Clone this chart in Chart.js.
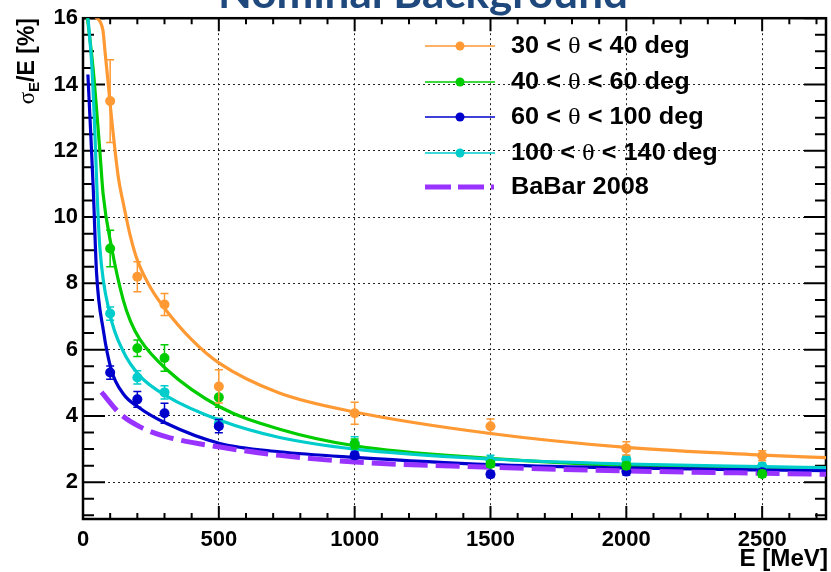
<!DOCTYPE html>
<html><head><meta charset="utf-8">
<script src="https://cdn.jsdelivr.net/npm/chart.js@4.4.1/dist/chart.umd.min.js"></script>
<style>html,body{margin:0;padding:0;background:#fff}#wrap{width:831px;height:572px;position:relative}</style>
</head><body><div id="wrap"><canvas id="c" width="831" height="572"></canvas></div>
<script>
// ---------- data ----------
const titleText = 'Nominal Background';
const xTitle = 'E [MeV]';
const xTickVals = [0, 500, 1000, 1500, 2000, 2500];
const xTickLabels = ['0', '500', '1000', '1500', '2000', '2500'];
const yTickVals = [2, 4, 6, 8, 10, 12, 14, 16];
const yTickLabels = ['2', '4', '6', '8', '10', '12', '14', '16'];

const seriesNames = ['30 < θ < 40 deg', '40 < θ < 60 deg', '60 < θ < 100 deg', '100 < θ < 140 deg'];
const babarName = 'BaBar 2008';

// measured points
const energies = [100, 200, 300, 500, 1000, 1500, 2000, 2500];
const res30_40  = [13.5, 8.2, 7.36, 4.89, 4.08, 3.69, 3.02, 2.8];
const err30_40  = [1.25, 0.45, 0.33, 0.5, 0.33, 0.22, 0.2, 0.15];
const res40_60  = [9.05, 6.04, 5.75, 4.56, 3.15, 2.55, 2.5, 2.25];
const err40_60  = [0.55, 0.25, 0.4, 0.3, 0.15, 0.1, 0.1, 0.1];
const res60_100 = [5.31, 4.5, 4.08, 3.69, 2.81, 2.24, 2.32, 2.3];
const err60_100 = [0.2, 0.24, 0.3, 0.2, 0.1, 0.1, 0.1, 0.1];
const res100_140 = [7.09, 5.16, 4.71, 3.78, 3.17, 2.66, 2.69, 2.48];
const err100_140 = [0.2, 0.2, 0.2, 0.15, 0.2, 0.15, 0.1, 0.1];

// fitted curves
const fitE30_40 = [45, 73, 81, 92, 100, 130, 150, 175, 200, 250, 300, 400, 500, 720, 1000, 1500, 2000, 2500, 2735];
const fit30_40  = [16.05, 15.65, 15.0, 14.1, 13.4, 11.2, 10.35, 9.4, 8.7, 7.85, 7.25, 6.3, 5.6, 4.7, 4.12, 3.47, 3.05, 2.82, 2.74];
const fitE40_60 = [15, 37, 62, 74, 105, 148, 175, 210, 308, 504, 724, 1000, 1500, 2000, 2500, 2735];
const fit40_60  = [16.1, 14.5, 12.0, 10.7, 9.09, 7.5, 6.85, 6.3, 5.4, 4.27, 3.6, 3.1, 2.72, 2.5, 2.41, 2.38];
const fitE60_100 = [18, 28, 38, 50, 75, 105, 148, 203, 308, 504, 724, 1000, 1500, 2000, 2500, 2735];
const fit60_100  = [14.3, 12.6, 10.8, 8.3, 6.58, 5.37, 4.67, 4.27, 3.77, 3.17, 2.92, 2.75, 2.53, 2.43, 2.37, 2.35];
const fitE100_140 = [15, 33, 44, 51, 62, 99, 148, 210, 308, 504, 724, 1000, 1500, 2000, 2500, 2735];
const fit100_140  = [16.3, 14.5, 12.5, 10.9, 9.09, 7.08, 5.95, 5.2, 4.6, 3.87, 3.35, 3.0, 2.7, 2.55, 2.47, 2.44];
const babarE = [68, 136, 210, 308, 504, 724, 1000, 1500, 2000, 2500, 2735];
const babarRes = [4.72, 4.07, 3.67, 3.37, 3.06, 2.81, 2.61, 2.45, 2.34, 2.27, 2.24];

const colors = ['#FF9933', '#00CC00', '#0000CC', '#00CCCC'];
const babarColor = '#9933FF';

// ---------- build datasets ----------
const pts = (xs, ys) => xs.map((x, i) => ({x: x, y: ys[i]}));
const measured = [res30_40, res40_60, res60_100, res100_140];
const errors = [err30_40, err40_60, err60_100, err100_140];
const fitsE = [fitE30_40, fitE40_60, fitE60_100, fitE100_140];
const fits = [fit30_40, fit40_60, fit60_100, fit100_140];

const datasets = [];
measured.forEach((ys, i) => {
  datasets.push({
    label: seriesNames[i], data: pts(energies, ys), errors: errors[i],
    showLine: false, pointRadius: 5, pointHoverRadius: 5, pointBorderWidth: 0,
    backgroundColor: colors[i], borderColor: colors[i], order: 0
  });
});
datasets.push({
  label: babarName, data: pts(babarE, babarRes), showLine: true, pointRadius: 0,
  borderColor: babarColor, borderWidth: 5, borderDash: [24, 8], cubicInterpolationMode: 'monotone', order: 1
});
fits.forEach((ys, i) => {
  datasets.push({
    label: seriesNames[i] + ' fit', data: pts(fitsE[i], ys), showLine: true, pointRadius: 0,
    borderColor: colors[i], borderWidth: 3.2, cubicInterpolationMode: 'monotone', order: 5 - i
  });
});

// ---------- helpers ----------
const SANS = '"Liberation Sans", Arial, sans-serif';
const SERIF = '"Liberation Serif", "Times New Roman", serif';
function richWidth(ctx, parts) {
  let w = 0;
  parts.forEach(p => { ctx.font = p.font; w += ctx.measureText(p.t).width; });
  return w;
}
function drawRich(ctx, parts, x, y, sx) {
  ctx.save();
  ctx.translate(x, y); ctx.scale(sx, 1);
  ctx.textAlign = 'left';
  let cx = 0;
  parts.forEach(p => {
    ctx.font = p.font;
    ctx.fillText(p.t, cx, p.dy || 0);
    cx += ctx.measureText(p.t).width;
  });
  ctx.restore();
}
function thetaParts(str, size) {
  const k = str.indexOf('θ');
  return [
    {t: str.slice(0, k), font: `bold ${size}px ${SANS}`},
    {t: 'θ', font: `${size + 1}px ${SERIF}`},
    {t: str.slice(k + 1), font: `bold ${size}px ${SANS}`}
  ];
}

const rootPlugin = {
  id: 'rootStyle',
  beforeDatasetsDraw(chart) {
    const {ctx, chartArea: a, scales: {x, y}} = chart;
    ctx.save();
    ctx.strokeStyle = '#000';
    ctx.lineWidth = 2;
    ctx.beginPath();
    for (let v = 0; v <= x.max; v += 100) {
      const px = x.getPixelForValue(v);
      const len = (v % 500 === 0) ? 13 : 6;
      ctx.moveTo(px, a.bottom); ctx.lineTo(px, a.bottom - len);
      ctx.moveTo(px, a.top); ctx.lineTo(px, a.top + len);
    }
    for (let v = 1; v <= y.max + 1e-9; v += 0.5) {
      if (v < y.min) continue;
      const py = y.getPixelForValue(v);
      const len = (Math.abs(v % 2) < 1e-9) ? 22 : 11;
      ctx.moveTo(a.left, py); ctx.lineTo(a.left + len, py);
      ctx.moveTo(a.right, py); ctx.lineTo(a.right - len, py);
    }
    ctx.stroke();
    ctx.lineWidth = 2.5;
    ctx.strokeRect(a.left, a.top, a.right - a.left, a.bottom - a.top);
    ctx.restore();
  },
  beforeDatasetDraw(chart, args) {
    const ds = chart.data.datasets[args.index];
    if (!ds.errors) return;
    const {ctx, scales: {x, y}} = chart;
    ctx.save();
    ctx.strokeStyle = ds.borderColor;
    ctx.lineWidth = 1.5;
    ctx.beginPath();
    ds.data.forEach((p, i) => {
      const e = ds.errors[i];
      const px = x.getPixelForValue(p.x);
      const yt = y.getPixelForValue(p.y + e), yb = y.getPixelForValue(p.y - e);
      ctx.moveTo(px, yt); ctx.lineTo(px, yb);
      ctx.moveTo(px - 4, yt); ctx.lineTo(px + 4, yt);
      ctx.moveTo(px - 4, yb); ctx.lineTo(px + 4, yb);
    });
    ctx.stroke();
    ctx.restore();
  },
  afterDraw(chart) {
    const {ctx} = chart;
    ctx.save();
    ctx.fillStyle = '#000';
    // legend
    const rows = [46, 82, 117, 153];
    seriesNames.forEach((name, i) => {
      const ry = rows[i];
      ctx.strokeStyle = colors[i]; ctx.lineWidth = 1.5; ctx.setLineDash([]);
      ctx.beginPath(); ctx.moveTo(425, ry); ctx.lineTo(495, ry); ctx.stroke();
      ctx.fillStyle = colors[i];
      ctx.beginPath(); ctx.arc(460, ry, 4.5, 0, Math.PI * 2); ctx.fill();
      ctx.fillStyle = '#000';
      ctx.textBaseline = 'middle';
      drawRich(ctx, thetaParts(name, 23), 511, ry + 1, 1.1);
    });
    ctx.strokeStyle = babarColor; ctx.lineWidth = 5; ctx.setLineDash([26, 7]);
    ctx.beginPath(); ctx.moveTo(425, 187); ctx.lineTo(494, 187); ctx.stroke();
    ctx.setLineDash([]);
    ctx.fillStyle = '#000';
    drawRich(ctx, [{t: babarName, font: `bold 23px ${SANS}`}], 511, 188, 1.1);

    // x axis title
    ctx.textBaseline = 'alphabetic';
    ctx.font = `bold 23px ${SANS}`;
    const wx = ctx.measureText(xTitle).width * 1.05;
    drawRich(ctx, [{t: xTitle, font: `bold 23px ${SANS}`}], 828 - wx, 566, 1.05);

    // y axis title (rotated)
    const yParts = [
      {t: 'σ', font: `23px ${SERIF}`},
      {t: 'E', font: `bold 15px ${SANS}`, dy: 5},
      {t: '/E [%]', font: `bold 23px ${SANS}`}
    ];
    const wy = richWidth(ctx, yParts);
    ctx.save();
    ctx.translate(34, 0);
    ctx.rotate(-Math.PI / 2);
    drawRich(ctx, yParts, -(18 + wy), 0, 1);
    ctx.restore();

    // title (cut at the top of the page)
    ctx.font = `bold 42px Lato, ${SANS}`;
    const tw = ctx.measureText(titleText).width;
    ctx.fillStyle = '#1F497D';
    ctx.save();
    ctx.translate(218, 8);
    ctx.scale(410 / tw, 1);
    ctx.textAlign = 'left';
    ctx.fillText(titleText, 0, 0);
    ctx.restore();
    ctx.restore();
  }
};

new Chart(document.getElementById('c'), {
  type: 'scatter',
  data: {datasets},
  options: {
    responsive: false,
    animation: false,
    layout: {padding: {top: 17, right: 4, left: 0, bottom: 0}},
    plugins: {legend: {display: false}, tooltip: {enabled: false}, title: {display: false}},
    scales: {
      x: {
        type: 'linear', min: 0, max: 2735,
        afterBuildTicks: s => { s.ticks = xTickVals.map(v => ({value: v})); },
        afterFit: s => { s.height = 53; },
        grid: {color: '#222', lineWidth: 1, drawTicks: false},
        border: {display: false, dash: [2, 3]},
        ticks: {
          callback: (v, i) => xTickLabels[i], padding: 8, color: '#000',
          maxRotation: 0, autoSkip: false,
          font: {family: SANS, size: 22, weight: 'bold'}
        }
      },
      y: {
        type: 'linear', min: 0.89, max: 16,
        afterBuildTicks: s => { s.ticks = yTickVals.map(v => ({value: v})); },
        afterFit: s => { s.width = 83; },
        grid: {color: '#222', lineWidth: 1, drawTicks: false},
        border: {display: false, dash: [2, 3]},
        ticks: {
          callback: (v, i) => yTickLabels[i], padding: 5, color: '#000', autoSkip: false,
          font: {family: SANS, size: 22, weight: 'bold'}
        }
      }
    }
  },
  plugins: [rootPlugin]
});
</script></body></html>
